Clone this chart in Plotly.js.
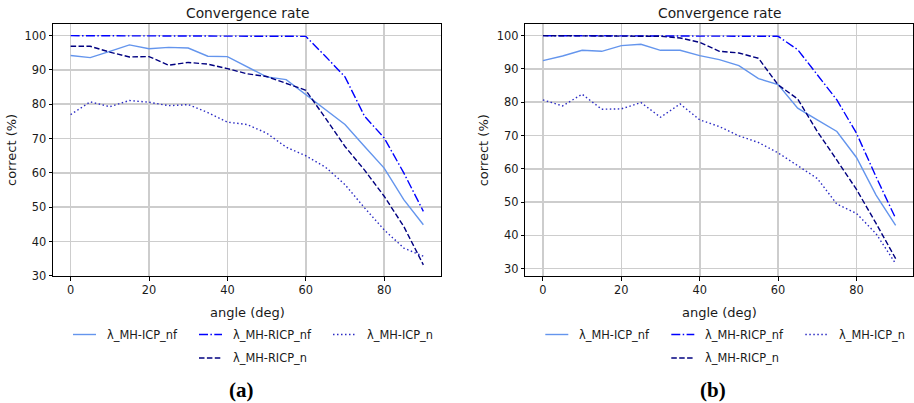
<!DOCTYPE html>
<html>
<head>
<meta charset="utf-8">
<script src="https://cdn.plot.ly/plotly-3.0.1.min.js"></script>
<style>html,body{margin:0;padding:0;background:#fff}#chart{width:914px;height:403px}</style>
</head>
<body>
<div id="chart"></div>
<script>
// ---- data ----
const angles = [0,5,10,15,20,25,30,35,40,45,50,55,60,65,70,75,80,85,90];
const seriesNames = ["λ_MH-ICP_nf","λ_MH-RICP_nf","λ_MH-ICP_n","λ_MH-RICP_n"];
const chartTitle = "Convergence rate";
const xLabel = "angle (deg)";
const yLabel = "correct (%)";
const panelLabels = ["(a)","(b)"];
const yTicks = [30,40,50,60,70,80,90,100];
const xTicks = [0,20,40,60,80];

// panel (a)
const a_ICP_nf  = [94.2,93.6,95.4,97.3,96.2,96.6,96.4,94.0,93.9,91.0,88.0,87.2,82.8,78.4,74.1,67.7,61.4,52.2,44.9];
const a_RICP_nf = [100,100,100,100,100,100,100,100,100,100,100,100,99.8,94.0,88.0,76.5,70.2,60.0,48.8];
const a_ICP_n   = [77.0,80.7,79.3,81.1,80.6,79.6,79.9,77.6,74.8,74.1,71.6,67.5,65.0,61.7,56.6,49.8,43.4,38.1,35.7];
const a_RICP_n  = [96.9,96.9,95.2,93.8,93.9,91.4,92.2,91.7,90.4,88.9,88.1,86.2,84.1,76.0,67.7,60.8,53.2,44.4,33.2];

// panel (b)
const b_ICP_nf  = [92.5,93.9,95.6,95.3,97.0,97.4,95.6,95.6,94.0,92.8,91.0,87.1,85.3,78.2,74.7,71.2,63.4,52.1,43.0];
const b_RICP_nf = [100,100,100,100,100,100,100,100,100,100,100,100,99.8,95.8,88.2,80.7,70.7,57.6,45.1];
const b_ICP_n   = [80.7,78.9,82.4,77.9,78.0,79.9,75.5,79.5,74.7,72.7,69.9,67.9,64.8,60.9,57.1,49.4,46.6,40.5,31.5];
const b_RICP_n  = [100,100,100,100,100,100,99.8,99.3,98.0,95.3,94.8,93.2,85.2,81.0,71.2,62.6,53.8,43.6,33.0];

// ---- styles ----
const styles = [
  {color:"#6495ED", dash:"solid"},
  {color:"#0000FF", dash:"9px,2.4px,1.5px,2.4px"},
  {color:"#2b2bc4", dash:"1.5px,2.5px"},
  {color:"#000080", dash:"5.5px,2.4px"}
];
const LW = 1.4;
const W = 914, H = 403;
const panels = [
  {series:[a_ICP_nf,a_RICP_nf,a_ICP_n,a_RICP_n], xa:"x", ya:"y", x0:53, x1:441, yr:[29.95,103.4]},
  {series:[b_ICP_nf,b_RICP_nf,b_ICP_n,b_RICP_n], xa:"x2", ya:"y2", x0:525.3, x1:913.3, yr:[27.8,103.5]}
];
const yTop = 24, yBot = 276;

const traces = [];
panels.forEach(p => {
  p.series.forEach((s,i) => {
    traces.push({
      x: angles, y: s, type:"scatter", mode:"lines", name: seriesNames[i],
      xaxis: p.xa, yaxis: p.ya, showlegend:false,
      line:{color:styles[i].color, dash:styles[i].dash, width:LW}
    });
  });
});

const txt = "#1a1a1a";
function axisX(p){
  return {domain:[p.x0/W, p.x1/W], range:[-4.5,94.5], tickvals:xTicks, ticks:"outside", ticklen:3.5,
    tickcolor:"#000", tickwidth:1, showline:true, mirror:true, linecolor:"#000", linewidth:1,
    showgrid:true, gridcolor:"#cdcdcd", gridwidth:1.6, zeroline:false,
    tickfont:{family:"DejaVu Sans", size:11.4, color:txt}, anchor: p.ya};
}
function axisY(p){
  return {domain:[1-yBot/H, 1-yTop/H], range:p.yr, tickvals:yTicks, ticks:"outside", ticklen:3.5,
    tickcolor:"#000", tickwidth:1, showline:true, mirror:true, linecolor:"#000", linewidth:1,
    showgrid:true, gridcolor:"#cdcdcd", gridwidth:1.6, zeroline:false,
    tickfont:{family:"DejaVu Sans", size:11.4, color:txt}, anchor: p.xa};
}

const annotations = [];
const shapes = [];
const legRow1 = 334.5, legRow2 = 358, panelY = 390;
panels.forEach((p,k) => {
  const c = (p.x0+p.x1)/2;
  annotations.push({text:chartTitle, xref:"paper", yref:"paper", x:c/W, y:1-13/H, xanchor:"center", yanchor:"middle",
    showarrow:false, font:{family:"DejaVu Sans", size:13.8, color:txt}});
  annotations.push({text:xLabel, xref:"paper", yref:"paper", x:c/W, y:1-312/H, xanchor:"center", yanchor:"middle",
    showarrow:false, font:{family:"DejaVu Sans", size:13, color:txt}});
  annotations.push({text:yLabel, xref:"paper", yref:"paper", x:(p.x0-41)/W, y:1-150/H, xanchor:"center", yanchor:"middle",
    textangle:-90, showarrow:false, font:{family:"DejaVu Sans", size:13, color:txt}});
  annotations.push({text:"<b>"+panelLabels[k]+"</b>", xref:"paper", yref:"paper", x:(c-6)/W, y:1-panelY/H, xanchor:"center", yanchor:"middle",
    showarrow:false, font:{family:"Liberation Serif", size:21, color:"#000"}});
  // legend
  const pos = [[c-174,legRow1],[c-48,legRow1],[c+86,legRow1],[c-48,legRow2]];
  seriesNames.forEach((nm,i) => {
    const [lx,ly] = pos[i];
    shapes.push({type:"line", xref:"paper", yref:"paper", x0:lx/W, x1:(lx+23)/W, y0:1-ly/H, y1:1-ly/H,
      line:{color:styles[i].color, dash:styles[i].dash, width:LW}});
    annotations.push({text:nm, xref:"paper", yref:"paper", x:(lx+32)/W, y:1-ly/H, xanchor:"left", yanchor:"middle",
      showarrow:false, font:{family:"DejaVu Sans", size:11.4, color:txt}});
  });
});

const layout = {
  width:W, height:H, margin:{l:0,r:0,t:0,b:0}, paper_bgcolor:"#fff", plot_bgcolor:"#fff",
  showlegend:false,
  xaxis:axisX(panels[0]), yaxis:axisY(panels[0]),
  xaxis2:axisX(panels[1]), yaxis2:axisY(panels[1]),
  annotations:annotations, shapes:shapes
};
Plotly.newPlot("chart", traces, layout, {displayModeBar:false, staticPlot:true});
</script>
</body>
</html>
